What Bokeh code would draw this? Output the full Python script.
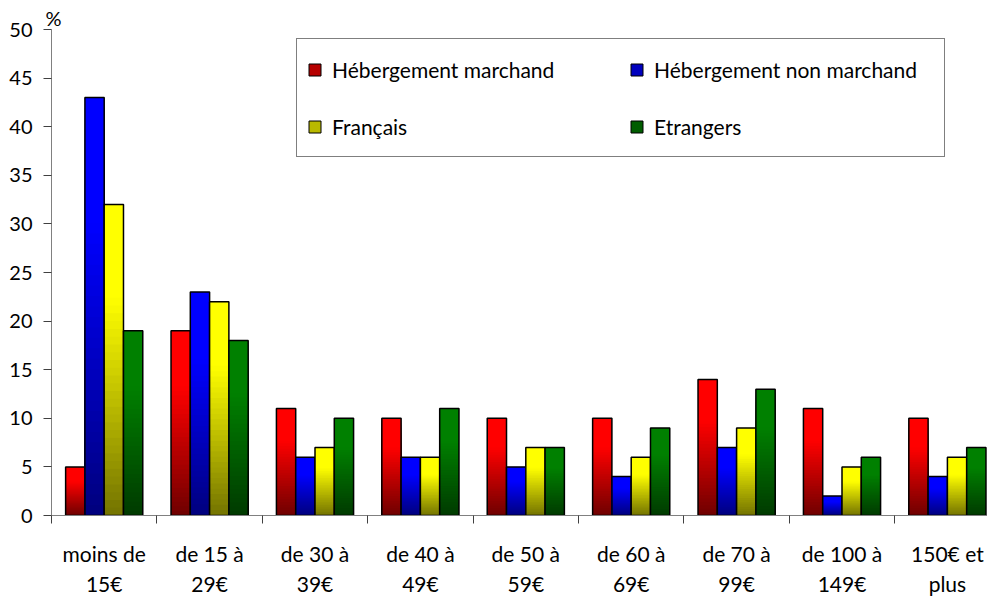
from bokeh.plotting import figure
from bokeh.models import (ColumnDataSource, Range1d, LinearAxis, FixedTicker,
                          Legend, LegendItem, Title)
from bokeh.embed import file_html
from bokeh.resources import INLINE

# ---------------- data ----------------
categories_line1 = ["moins de", "de 15 à", "de 30 à", "de 40 à", "de 50 à",
                    "de 60 à", "de 70 à", "de 100 à", "150€ et"]
categories_line2 = ["15€", "29€", "39€", "49€", "59€", "69€", "99€", "149€", "plus"]
series_names = ["Hébergement marchand", "Hébergement non marchand", "Français", "Etrangers"]
heberg_marchand = [5, 19, 11, 10, 10, 10, 14, 11, 10]
heberg_non_marchand = [43, 23, 6, 6, 5, 4, 7, 2, 4]
francais = [32, 22, 7, 6, 7, 6, 9, 5, 6]
etrangers = [19, 18, 10, 11, 7, 9, 13, 6, 7]
y_ticks = [0, 5, 10, 15, 20, 25, 30, 35, 40, 45, 50]

series_values = [heberg_marchand, heberg_non_marchand, francais, etrangers]
bright = [(255, 0, 0), (0, 0, 255), (255, 255, 0), (0, 128, 0)]
dark = [(110, 0, 0), (0, 0, 125), (115, 115, 0), (0, 58, 0)]

FONT = "Lato"
n_cat = len(categories_line1)
centers = [i + 0.5 for i in range(n_cat)]
bar_w = 0.183
offsets = [-1.5, -0.5, 0.5, 1.5]

p = figure(width=987, height=599, output_backend="svg", toolbar_location=None,
           x_range=Range1d(0, (987 - 51) / 105.4), y_range=Range1d(0, 50),
           min_border_left=51, min_border_right=0, min_border_top=29,
           min_border_bottom=84, x_axis_location=None, y_axis_location=None)
p.outline_line_color = None
p.grid.visible = False
p.background_fill_color = "white"
p.border_fill_color = "white"

NSEG = 40
legend_items = []
for s, vals in enumerate(series_values):
    xs, tops, cols = [], [], []
    # draw from tallest (brightest) slice down to smallest (darkest)
    for k in range(NSEG - 1, -1, -1):
        t = (k + 0.5) / NSEG
        f = min(1.0, t / 0.7)
        c = tuple(int(round(dark[s][j] + (bright[s][j] - dark[s][j]) * f)) for j in range(3))
        hexc = "#%02x%02x%02x" % c
        for i, v in enumerate(vals):
            xs.append(centers[i] + offsets[s] * bar_w)
            tops.append(v * (k + 1) / NSEG)
            cols.append(hexc)
    src = ColumnDataSource(dict(x=xs, top=tops, color=cols))
    p.vbar(x="x", top="top", bottom=0, width=bar_w, source=src,
           fill_color="color", line_color=None)
    osrc = ColumnDataSource(dict(x=[c + offsets[s] * bar_w for c in centers], top=vals))
    p.vbar(x="x", top="top", bottom=0, width=bar_w, source=osrc,
           fill_color=None, line_color="black", line_width=1.5)
    mid = tuple(int(round((dark[s][j] + bright[s][j]) / 2)) for j in range(3))
    # legend swatch renderer, placed outside the visible x range
    lr = p.vbar(x=[-5], top=[1], width=bar_w, fill_color="#%02x%02x%02x" % mid,
                line_color="black", line_width=1)
    legend_items.append(LegendItem(label=series_names[s], renderers=[lr]))

# y axis
yax = LinearAxis(ticker=FixedTicker(ticks=y_ticks, minor_ticks=[]))
yax.axis_line_color = "#808080"
yax.major_tick_line_color = "#404040"
yax.major_tick_out = 8
yax.major_tick_in = 0
yax.minor_tick_out = 0
yax.major_label_standoff = 11
yax.major_label_text_font = FONT
yax.major_label_text_font_size = "20px"
yax.major_label_text_color = "black"
p.add_layout(yax, "left")

# x axis: first line of labels, boundary ticks as minor ticks
xax1 = LinearAxis(ticker=FixedTicker(ticks=centers, minor_ticks=list(range(n_cat + 1))))
xax1.major_label_overrides = {c: l for c, l in zip(centers, categories_line1)}
xax1.axis_line_color = "#808080"
xax1.major_tick_out = 0
xax1.major_tick_in = 0
xax1.minor_tick_out = 8
xax1.minor_tick_in = 0
xax1.minor_tick_line_color = "#404040"
xax1.major_label_standoff = 17
xax1.major_label_text_font = FONT
xax1.major_label_text_font_size = "21px"
xax1.major_label_text_color = "black"
p.add_layout(xax1, "below")

xax2 = LinearAxis(ticker=FixedTicker(ticks=centers, minor_ticks=[]))
xax2.major_label_overrides = {c: l for c, l in zip(centers, categories_line2)}
xax2.axis_line_color = None
xax2.major_tick_out = 0
xax2.major_tick_in = 0
xax2.minor_tick_out = 0
xax2.major_label_standoff = 2
xax2.major_label_text_font = FONT
xax2.major_label_text_font_size = "21px"
xax2.major_label_text_color = "black"
p.add_layout(xax2, "below")

# "%" unit label above the y axis
p.add_layout(Title(text="%", align="left", offset=-6, standoff=0,
                   text_font=FONT, text_font_size="20px", text_font_style="normal",
                   text_color="black"), "above")

legend = Legend(items=legend_items, location=(245, 358), orientation="horizontal",
                nrows=2, margin=0, padding=10, spacing=17,
                glyph_width=15, glyph_height=15, label_height=40, label_width=280,
                label_standoff=10, label_text_font=FONT, label_text_font_size="21px",
                label_text_color="black", border_line_color="black", border_line_width=1.5,
                background_fill_color="white", background_fill_alpha=1)
p.add_layout(legend, "center")

open("out.html", "w").write(file_html(p, INLINE))
